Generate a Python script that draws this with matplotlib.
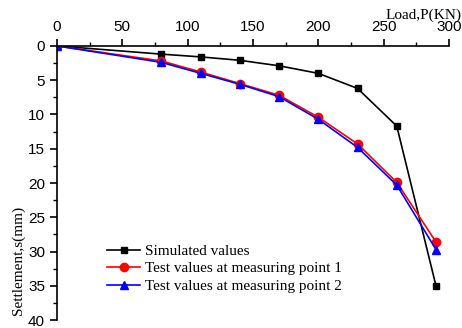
import matplotlib.pyplot as plt
import numpy as np

# load (KN) and settlement (mm)
load = [0, 80, 110, 140, 170, 200, 230, 260, 290]
simulated = [0, 1.2, 1.6, 2.1, 2.9, 4.0, 6.2, 11.7, 35.0]
test_pt1 = [0, 2.2, 3.8, 5.5, 7.2, 10.4, 14.3, 19.9, 28.6]
test_pt2 = [0, 2.4, 4.0, 5.6, 7.4, 10.7, 14.8, 20.3, 29.7]

fig = plt.figure(figsize=(4.62, 3.28), dpi=100)
ax = fig.add_axes([0.123, 0.024, 0.849, 0.836])

ax.plot(load, simulated, color='black', marker='s', ms=5, lw=1.2, label='Simulated values')
ax.plot(load, test_pt1, color='red', marker='o', ms=6, lw=1.2, label='Test values at measuring point 1')
ax.plot(load, test_pt2, color='blue', marker='^', ms=6, lw=1.2, label='Test values at measuring point 2')

ax.set_xlim(0, 300)
ax.set_ylim(40, 0)
ax.xaxis.tick_top()
ax.set_xticks(np.arange(0, 301, 50))
ax.set_xticks(np.arange(0, 301, 25), minor=True)
ax.set_yticks(np.arange(0, 41, 5))
ax.set_yticks(np.arange(0, 41, 2.5), minor=True)
for s in ['right', 'bottom']:
    ax.spines[s].set_visible(False)
for s in ['top', 'left']:
    ax.spines[s].set_linewidth(1.2)
ax.tick_params(which='major', direction='out', length=5, width=1.2, labelsize=11)
ax.tick_params(which='minor', direction='out', length=3, width=1.0)
for t in ax.get_xticklabels() + ax.get_yticklabels():
    t.set_fontfamily('Liberation Sans')

fig.text(0.998, 0.955, 'Load,P(KN)', ha='right', va='center', fontsize=11, family='Liberation Serif')
fig.text(0.04, 0.205, 'Settlement,s(mm)', rotation=90, ha='center', va='center', fontsize=11, family='Liberation Serif')

leg = ax.legend(loc='lower left', bbox_to_anchor=(0.10, 0.06), frameon=False,
                prop={'family': 'Liberation Serif', 'size': 11}, handlelength=2.2,
                labelspacing=0.25, borderpad=0.2, handletextpad=0.3)

fig.savefig('out.png', dpi=100)
